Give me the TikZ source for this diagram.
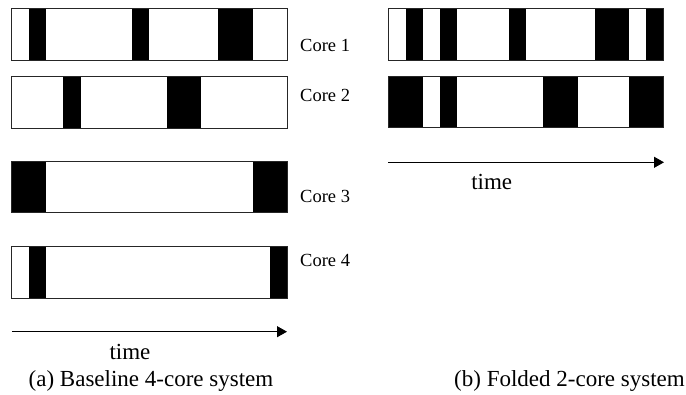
\documentclass[tikz,border=0pt]{standalone}
\usepackage{fontspec}
\setmainfont{Liberation Serif}
\usetikzlibrary{arrows.meta}
\begin{document}
\begin{tikzpicture}[x=1pt,y=-1pt,
  barframe/.style={draw=black!85,line width=0.9pt},
  busy/.style={fill=black},
  corelabel/.style={anchor=west,inner sep=0pt,font=\fontsize{18.5}{20}\selectfont},
  bigtext/.style={inner sep=0pt,font=\fontsize{23}{26}\selectfont},
  timearrow/.style={line width=1pt,-{Triangle[length=10pt,width=11pt]}}]
\useasboundingbox (0,0) rectangle (686,395);
\def\unitw{17.2}
% bars: left = baseline 4-core system, right = folded 2-core system
\foreach \xo/\yt/\yb/\segs in {
  11.8/8.3/60/{1/2,7/8,12/14},
  11.8/76.7/128.3/{3/4,9/11},
  11.8/161.7/212.7/{0/2,14/16},
  11.8/246.7/298/{1/2,15/16},
  388.4/8.3/60/{1/2,3/4,7/8,12/14,15/16},
  388.4/76.7/127.7/{0/2,3/4,9/11,14/16}}{
  \foreach \s/\e in \segs {
    \fill[busy] (\xo+\s*\unitw,\yt) rectangle (\xo+\e*\unitw,\yb);
  }
  \draw[barframe] (\xo,\yt) rectangle (\xo+16*\unitw,\yb);
}
\node[corelabel] (c1) at (300,45) {Core 1};
\node[corelabel] (c2) at (300,95) {Core 2};
\node[corelabel] (c3) at (300,196) {Core 3};
\node[corelabel] (c4) at (300,260) {Core 4};
% time arrows
\coordinate (la0) at (11.8,331.7);
\coordinate (la1) at (287,331.7);
\draw[timearrow] (la0) -- (la1);
\coordinate (ra0) at (388.4,162.3);
\coordinate (ra1) at (664,162.3);
\draw[timearrow] (ra0) -- (ra1);
\node[bigtext] (ta) at (130,351.7) {time};
\node[bigtext] (tb) at (491.7,181.7) {time};
\node[bigtext] (capa) at (151,381) {(a) Baseline 4-core system};
\node[bigtext] (capb) at (569.5,381) {(b) Folded 2-core system};
\end{tikzpicture}
\end{document}
